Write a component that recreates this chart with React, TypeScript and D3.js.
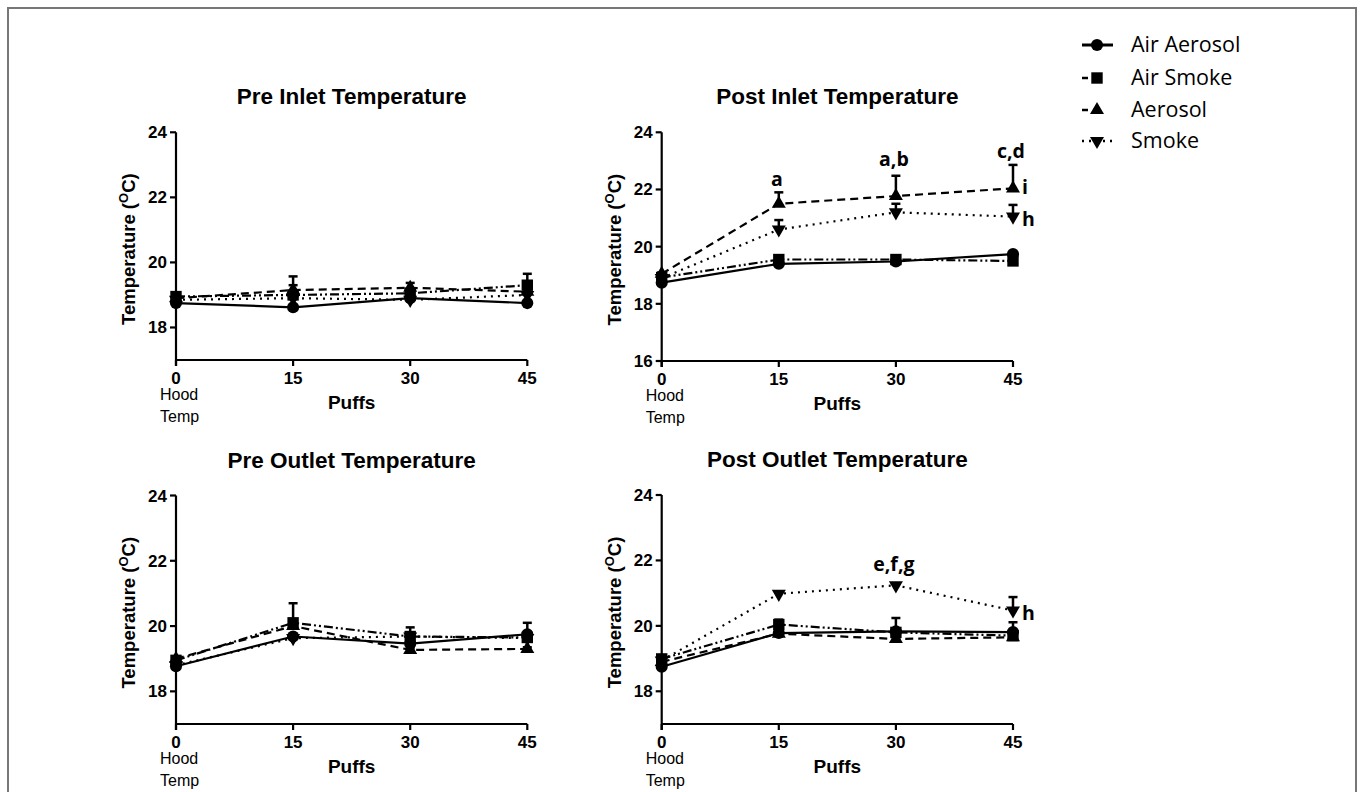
import React from "react";
import * as d3 from "d3";

// ---------- DATA ----------
const puffs = [0, 15, 30, 45];
const xTickLabels = ["0", "15", "30", "45"];
const seriesNames = ["Air Aerosol", "Air Smoke", "Aerosol", "Smoke"];
const panelTitles = [
  "Pre Inlet Temperature",
  "Post Inlet Temperature",
  "Pre Outlet Temperature",
  "Post Outlet Temperature",
];

// Pre Inlet
const preInletAirAerosol = [18.75, 18.62, 18.9, 18.75];
const preInletAirAerosolErr = [0.1, 0.05, 0.05, 0.05];
const preInletAirSmoke = [18.95, 19.0, 19.05, 19.3];
const preInletAirSmokeErr = [0.1, 0.3, 0.15, 0.1];
const preInletAerosol = [18.9, 19.15, 19.22, 19.1];
const preInletAerosolErr = [0.05, 0.42, 0.15, 0.55];
const preInletSmoke = [18.85, 18.9, 18.85, 19.0];
const preInletSmokeErr = [0.05, 0.1, 0.1, 0.1];

// Post Inlet
const postInletAirAerosol = [18.74, 19.4, 19.48, 19.74];
const postInletAirAerosolErr = [0.05, 0.05, 0.05, 0.05];
const postInletAirSmoke = [18.92, 19.55, 19.55, 19.5];
const postInletAirSmokeErr = [0.05, 0.15, 0.1, 0.1];
const postInletAerosol = [19.05, 21.5, 21.77, 22.04];
const postInletAerosolErr = [0.05, 0.4, 0.71, 0.82];
const postInletSmoke = [18.9, 20.6, 21.2, 21.05];
const postInletSmokeErr = [0.05, 0.33, 0.3, 0.41];

// Pre Outlet
const preOutletAirAerosol = [18.77, 19.68, 19.46, 19.75];
const preOutletAirAerosolErr = [0.05, 0.05, 0.1, 0.05];
const preOutletAirSmoke = [18.95, 20.1, 19.68, 19.65];
const preOutletAirSmokeErr = [0.05, 0.6, 0.28, 0.45];
const preOutletAerosol = [19.0, 20.0, 19.27, 19.3];
const preOutletAerosolErr = [0.05, 0.2, 0.05, 0.05];
const preOutletSmoke = [18.8, 19.63, 19.68, 19.63];
const preOutletSmokeErr = [0.05, 0.1, 0.1, 0.1];

// Post Outlet
const postOutletAirAerosol = [18.75, 19.78, 19.83, 19.81];
const postOutletAirAerosolErr = [0.05, 0.05, 0.05, 0.05];
const postOutletAirSmoke = [18.99, 20.04, 19.8, 19.7];
const postOutletAirSmokeErr = [0.05, 0.15, 0.44, 0.41];
const postOutletAerosol = [18.9, 19.76, 19.6, 19.65];
const postOutletAerosolErr = [0.05, 0.05, 0.05, 0.05];
const postOutletSmoke = [18.94, 20.98, 21.24, 20.47];
const postOutletSmokeErr = [0.05, 0.05, 0.05, 0.41];

const yTicksPre = [18, 20, 22, 24];
const yTicksPostInlet = [16, 18, 20, 22, 24];

// annotations: [panelIndex, puffs x, temperature y, text, anchor]
const annotations: [number, number, number, string, string][] = [
  [1, 15, 22.35, "a", "middle"],
  [1, 30, 23.05, "a,b", "middle"],
  [1, 45, 23.36, "c,d", "middle"],
  [1, 45, 22.1, "i", "start"],
  [1, 45, 20.98, "h", "start"],
  [3, 30, 21.9, "e,f,g", "middle"],
  [3, 45, 20.4, "h", "start"],
];

// ---------- LAYOUT / STYLE ----------
const panelData = [
  {
    series: [preInletAirAerosol, preInletAirSmoke, preInletAerosol, preInletSmoke],
    errs: [preInletAirAerosolErr, preInletAirSmokeErr, preInletAerosolErr, preInletSmokeErr],
    yDomain: [17, 24],
    yTicks: yTicksPre,
    left: 176, top: 132.3, bottom: 360,
  },
  {
    series: [postInletAirAerosol, postInletAirSmoke, postInletAerosol, postInletSmoke],
    errs: [postInletAirAerosolErr, postInletAirSmokeErr, postInletAerosolErr, postInletSmokeErr],
    yDomain: [16, 24],
    yTicks: yTicksPostInlet,
    left: 661.7, top: 132.3, bottom: 361,
  },
  {
    series: [preOutletAirAerosol, preOutletAirSmoke, preOutletAerosol, preOutletSmoke],
    errs: [preOutletAirAerosolErr, preOutletAirSmokeErr, preOutletAerosolErr, preOutletSmokeErr],
    yDomain: [17, 24],
    yTicks: yTicksPre,
    left: 176, top: 495.5, bottom: 724,
  },
  {
    series: [postOutletAirAerosol, postOutletAirSmoke, postOutletAerosol, postOutletSmoke],
    errs: [postOutletAirAerosolErr, postOutletAirSmokeErr, postOutletAerosolErr, postOutletSmokeErr],
    yDomain: [17, 24],
    yTicks: yTicksPre,
    left: 661.7, top: 495.0, bottom: 724,
  },
];
const plotWidth = 351.3;

const dashes = ["none", "9,3,2,3,2,3", "8,5", "2,5"];
const symbolTypes = [d3.symbolCircle, d3.symbolSquare, d3.symbolTriangle, d3.symbolTriangle];
const symbolSizes = [115, 130, 85, 85];
const symbolRot = [0, 0, 0, 180];

const axisFont = "'Liberation Sans', Arial, sans-serif";
const calFont = "'Open Sans', 'Noto Sans', sans-serif";

function Marker({ i, x, y, scale = 1 }: { i: number; x: number; y: number; scale?: number }) {
  const path = d3.symbol(symbolTypes[i], symbolSizes[i] * scale)() || "";
  return (
    <path
      d={path}
      transform={`translate(${x},${y}) rotate(${symbolRot[i]})`}
      fill="#000"
    />
  );
}

function Panel({ p, idx }: { p: any; idx: number }) {
  const x = d3.scaleLinear().domain([0, 45]).range([p.left, p.left + plotWidth]);
  const y = d3.scaleLinear().domain(p.yDomain).range([p.bottom, p.top]);
  const line = d3
    .line<number>()
    .x((_, j) => x(puffs[j]))
    .y((v) => y(v));
  const cx = p.left + plotWidth / 2;
  const yMid = (p.top + p.bottom) / 2;
  return (
    <g>
      <text
        x={cx}
        y={p.top - 28}
        textAnchor="middle"
        fontFamily={axisFont}
        fontWeight="bold"
        fontSize={22.5}
      >
        {panelTitles[idx]}
      </text>
      {/* axes */}
      <line x1={p.left} x2={p.left} y1={p.top} y2={p.bottom + 6} stroke="#000" strokeWidth={2.2} />
      <line x1={p.left} x2={p.left + plotWidth} y1={p.bottom} y2={p.bottom} stroke="#000" strokeWidth={2.2} />
      {p.yTicks.map((t: number) => (
        <g key={"yt" + t}>
          <line x1={p.left - 6} x2={p.left} y1={y(t)} y2={y(t)} stroke="#000" strokeWidth={2.2} />
          <text
            x={p.left - 9}
            y={y(t) + 6}
            textAnchor="end"
            fontFamily={axisFont}
            fontWeight="bold"
            fontSize={17}
          >
            {t}
          </text>
        </g>
      ))}
      {puffs.map((t, j) => (
        <g key={"xt" + t}>
          <line x1={x(t)} x2={x(t)} y1={p.bottom} y2={p.bottom + 6} stroke="#000" strokeWidth={2.2} />
          <text
            x={x(t)}
            y={p.bottom + 24}
            textAnchor="middle"
            fontFamily={axisFont}
            fontWeight="bold"
            fontSize={17}
          >
            {xTickLabels[j]}
          </text>
        </g>
      ))}
      <text x={p.left - 16} y={p.bottom + 40} fontFamily={axisFont} fontSize={16}>
        Hood
      </text>
      <text x={p.left - 16} y={p.bottom + 62} fontFamily={axisFont} fontSize={16}>
        Temp
      </text>
      <text
        x={cx}
        y={p.bottom + 49}
        textAnchor="middle"
        fontFamily={axisFont}
        fontWeight="bold"
        fontSize={19}
      >
        Puffs
      </text>
      <text
        transform={`translate(${p.left - 41},${yMid + 3}) rotate(-90)`}
        textAnchor="middle"
        fontFamily={axisFont}
        fontWeight="bold"
        fontSize={18.5}
      >
        Temperature (<tspan dy={-7} fontSize={13}>O</tspan>
        <tspan dy={7}>C)</tspan>
      </text>
      {/* series */}
      {p.series.map((s: number[], i: number) => (
        <g key={"s" + i}>
          <path
            d={line(s) || ""}
            fill="none"
            stroke="#000"
            strokeWidth={2.2}
            strokeDasharray={dashes[i]}
          />
          {s.map((v, j) => (
            <g key={j}>
              <line
                x1={x(puffs[j])}
                x2={x(puffs[j])}
                y1={y(v)}
                y2={y(v + p.errs[i][j])}
                stroke="#000"
                strokeWidth={2.5}
              />
              <line
                x1={x(puffs[j]) - 4.5}
                x2={x(puffs[j]) + 4.5}
                y1={y(v + p.errs[i][j])}
                y2={y(v + p.errs[i][j])}
                stroke="#000"
                strokeWidth={2.5}
              />
              <Marker i={i} x={x(puffs[j])} y={y(v)} />
            </g>
          ))}
        </g>
      ))}
      {annotations
        .filter((a) => a[0] === idx)
        .map((a, k) => (
          <text
            key={"an" + k}
            x={x(a[1]) + (a[4] === "start" ? 9 : -2)}
            y={y(a[2]) + 7}
            textAnchor={a[4]}
            fontFamily={calFont}
            fontWeight="bold"
            fontSize={19.5}
          >
            {a[3]}
          </text>
        ))}
    </g>
  );
}

const legendRowY = [45, 78, 110, 141];
const legendDash = ["none", "6,40", "6,5,2,40", "2,5"];

export default function App() {
  return (
    <svg
      width={1360}
      height={792}
      style={{ position: "absolute", left: 0, top: 0, background: "#fff" }}
    >
      <rect x={0} y={0} width={1360} height={792} fill="#fff" />
      <rect x={8} y={8} width={1348} height={800} fill="none" stroke="#777" strokeWidth={2} />
      {panelData.map((p, idx) => (
        <Panel key={idx} p={p} idx={idx} />
      ))}
      {seriesNames.map((n, i) => (
        <g key={"lg" + i}>
          <line
            x1={1082}
            x2={i === 1 ? 1098 : 1113}
            y1={legendRowY[i]}
            y2={legendRowY[i]}
            stroke="#000"
            strokeWidth={i === 0 ? 3 : 2.5}
            strokeDasharray={legendDash[i]}
          />
          <Marker i={i} x={1097} y={legendRowY[i]} />
          <text x={1131} y={legendRowY[i] + 7} fontFamily={calFont} fontSize={21.5}>
            {n}
          </text>
        </g>
      ))}
    </svg>
  );
}
